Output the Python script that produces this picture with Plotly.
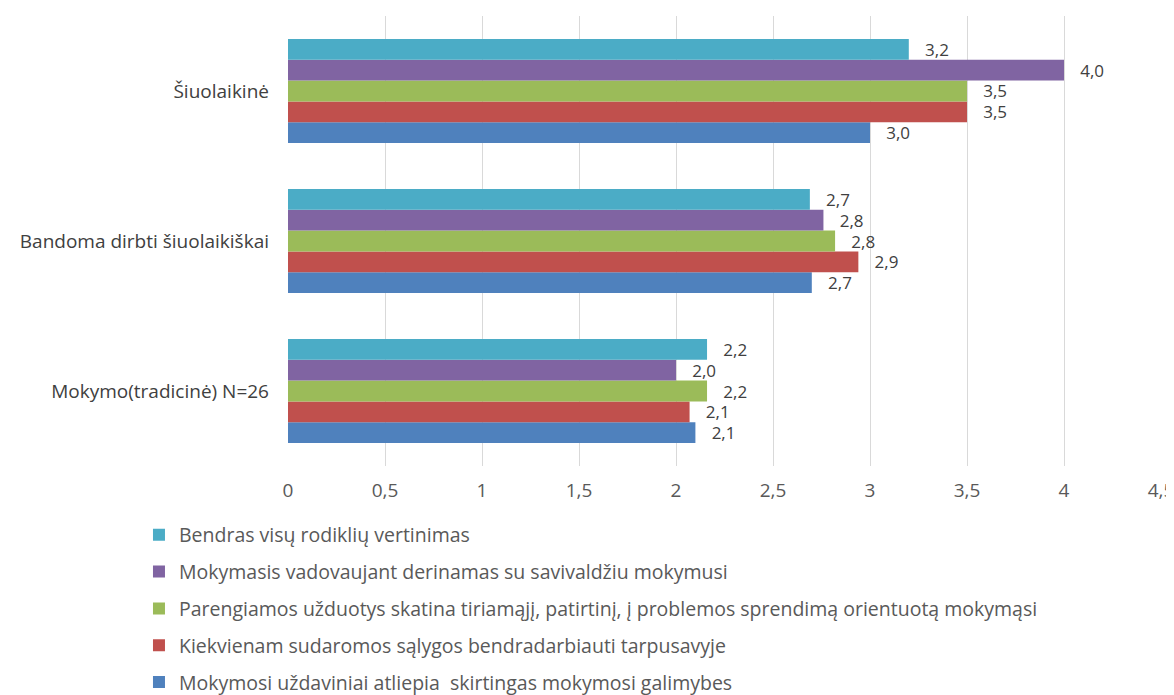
import plotly.graph_objects as go

categories = ["Mokymo(tradicinė) N=26", "Bandoma dirbti šiuolaikiškai", "Šiuolaikinė"]

series_names = [
    "Mokymosi uždaviniai atliepia  skirtingas mokymosi galimybes",
    "Kiekvienam sudaromos sąlygos bendradarbiauti tarpusavyje",
    "Parengiamos užduotys skatina tiriamąjį, patirtinį, į problemos sprendimą orientuotą mokymąsi",
    "Mokymasis vadovaujant derinamas su savivaldžiu mokymusi",
    "Bendras visų rodiklių vertinimas",
]
blue_vals = [2.10, 2.70, 3.00]
red_vals = [2.07, 2.94, 3.50]
green_vals = [2.16, 2.82, 3.50]
purple_vals = [2.00, 2.76, 4.00]
cyan_vals = [2.16, 2.69, 3.20]

series_values = [blue_vals, red_vals, green_vals, purple_vals, cyan_vals]
colors = ["#4F81BD", "#C0504D", "#9BBB59", "#8064A2", "#4BACC6"]

x_ticks = [0, 0.5, 1, 1.5, 2, 2.5, 3, 3.5, 4, 4.5]

font_family = "Open Sans, Liberation Sans, sans-serif"

fig = go.Figure()
n = len(series_names)
for i, (name, vals, col) in enumerate(zip(series_names, series_values, colors)):
    fig.add_trace(go.Bar(
        y=categories, x=vals, name=name, orientation="h",
        marker=dict(color=col, line=dict(width=0)),
        text=vals, texttemplate="   %{x:.1f}", textposition="outside",
        constraintext="none",
        textfont=dict(size=17, color="#404040", family=font_family),
        cliponaxis=False, legendgroup=name, legendrank=n - i,
    ))

fig.update_layout(
    width=1174, height=695,
    paper_bgcolor="white", plot_bgcolor="white",
    barmode="group", bargap=0.307, bargroupgap=0,
    separators=",.",
    margin=dict(l=280, r=21, t=8, b=237, autoexpand=False),
    font=dict(family=font_family, color="#595959"),
    xaxis=dict(range=[0, 4.5], tickvals=x_ticks, ticktext=[str(t).replace(".", ",") for t in x_ticks],
               showgrid=True, gridcolor="#D9D9D9", gridwidth=1, zeroline=False,
               showline=False, tickfont=dict(size=19, color="#595959"), ticks="",
               ticklabelstandoff=11, automargin=False),
    yaxis=dict(showgrid=False, showline=False, ticks="", ticklabelstandoff=18,
               tickfont=dict(size=19, color="#404040"), automargin=False),
    legend=dict(orientation="v", tracegroupgap=8.5,
                x=-0.1707, y=-0.11, xanchor="left", yanchor="top",
                font=dict(size=19.5, color="#595959")),
    showlegend=True,
)

fig.write_html("out.html")
